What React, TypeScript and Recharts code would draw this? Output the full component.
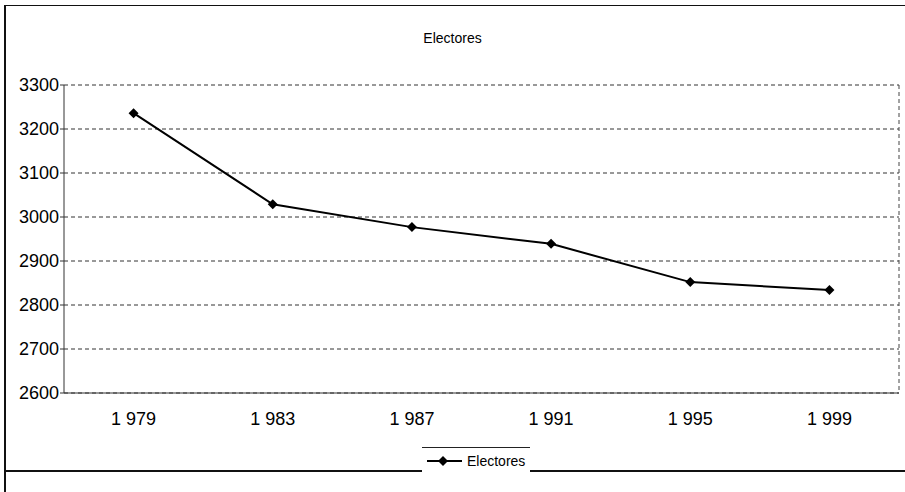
import { LineChart, Line, XAxis, YAxis, CartesianGrid } from "recharts";

const years = ["1 979", "1 983", "1 987", "1 991", "1 995", "1 999"];
const electores = [3236, 3029, 2977, 2939, 2852, 2834];
const yTicks = [2600, 2700, 2800, 2900, 3000, 3100, 3200, 3300];

const data = years.map((year, i) => ({ year, electores: electores[i] }));

const font = "'Liberation Sans', Arial, sans-serif";

function Diamond(props: any) {
  const { cx, cy } = props;
  if (cx == null || cy == null) return null;
  const r = 5;
  return (
    <polygon
      key={props.key ?? `${cx}-${cy}`}
      points={`${cx},${cy - r} ${cx + r},${cy} ${cx},${cy + r} ${cx - r},${cy}`}
      fill="#000"
    />
  );
}

function LegendBox() {
  return (
    <div
      style={{
        position: "absolute",
        left: 422,
        top: 447,
        width: 108,
        height: 26,
        background: "#fff",
        borderTop: "1px solid #222",
        display: "flex",
        alignItems: "center",
        fontFamily: font,
        fontSize: 14,
        color: "#000",
      }}
    >
      <svg width={40} height={12} style={{ marginLeft: 5 }}>
        <line x1={0} y1={6} x2={35} y2={6} stroke="#000" strokeWidth={2} />
        <polygon points="16,1 21,6 16,11 11,6" fill="#000" />
      </svg>
      <span>Electores</span>
    </div>
  );
}

export default function App() {
  return (
    <div
      style={{
        position: "absolute",
        left: 0,
        top: 0,
        width: 905,
        height: 492,
        background: "#fff",
        overflow: "hidden",
      }}
    >
      {/* chart frame */}
      <div style={{ position: "absolute", left: 4, top: 5, width: 901, height: 1, background: "#111" }} />
      <div style={{ position: "absolute", left: 4, top: 5, width: 1.5, height: 487, background: "#111" }} />
      <div style={{ position: "absolute", left: 4, top: 470, width: 901, height: 1.5, background: "#111" }} />
      <div
        style={{
          position: "absolute",
          left: 0,
          top: 30,
          width: 905,
          textAlign: "center",
          fontFamily: font,
          fontSize: 14,
          color: "#000",
        }}
      >
        Electores
      </div>
      <div style={{ position: "absolute", left: 0, top: 0 }}>
        <LineChart width={905} height={492} data={data} margin={{ top: 85, right: 0, bottom: 69, left: 0 }}>
          <CartesianGrid vertical={false} stroke="#333" strokeDasharray="4 3" />
          <XAxis
            dataKey="year"
            scale="band"
            height={30}
            tickLine={false}
            tickMargin={13}
            axisLine={{ stroke: "#333" }}
            tick={{ fill: "#000", fontSize: 18, fontFamily: font }}
          />
          <YAxis
            domain={[2600, 3300]}
            ticks={yTicks}
            width={64}
            tickSize={4}
            tickMargin={1}
            axisLine={{ stroke: "#333" }}
            tickLine={{ stroke: "#333" }}
            tick={{ fill: "#000", fontSize: 18, fontFamily: font }}
          />
          <YAxis
            yAxisId="frame"
            orientation="right"
            domain={[2600, 3300]}
            width={6}
            tick={false}
            tickLine={false}
            axisLine={{ stroke: "#444", strokeDasharray: "4 3" }}
          />
          <Line
            type="linear"
            dataKey="electores"
            name="Electores"
            stroke="#000"
            strokeWidth={2}
            dot={Diamond}
            activeDot={false}
            isAnimationActive={false}
          />
        </LineChart>
      </div>
      <LegendBox />
    </div>
  );
}
